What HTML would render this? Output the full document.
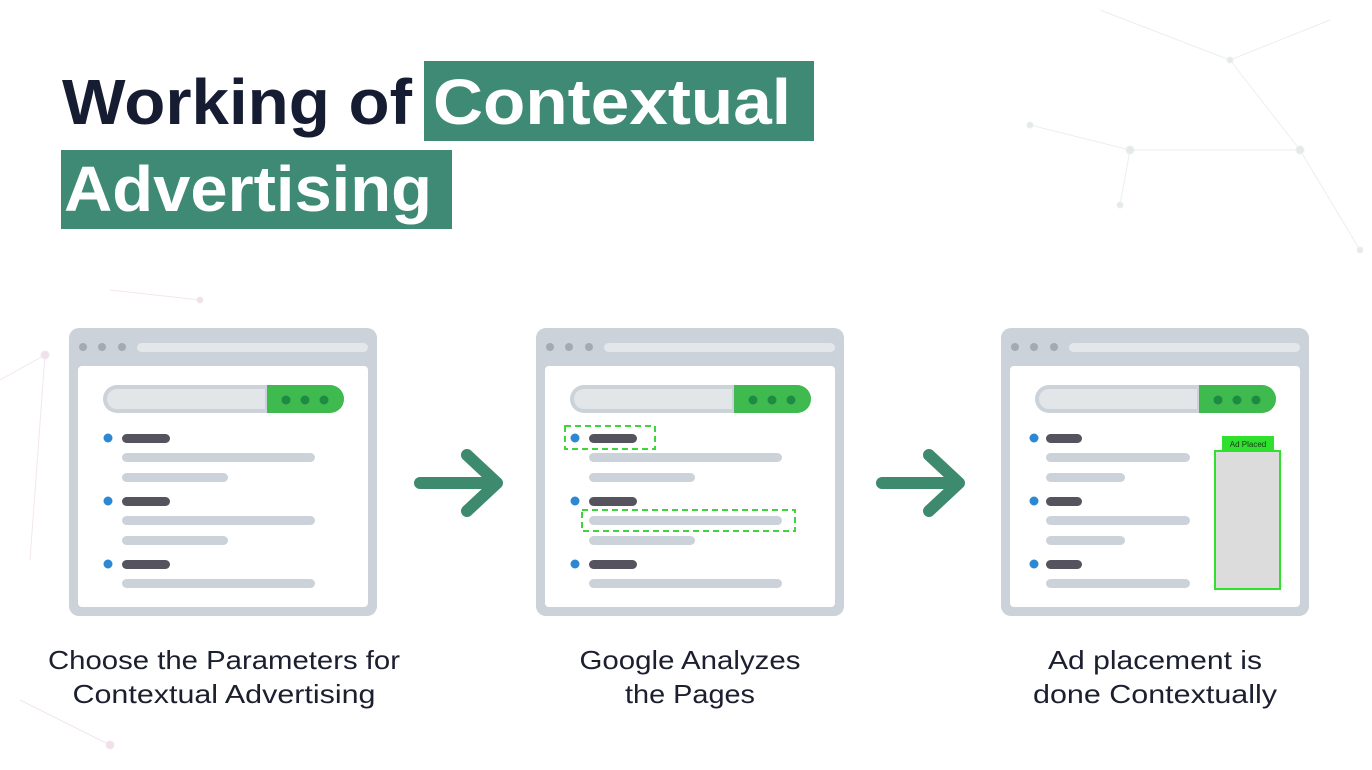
<!DOCTYPE html>
<html><head><meta charset="utf-8"><style>
body{margin:0;background:#fff;}
svg{display:block}
text{font-family:"Liberation Sans",sans-serif}
</style></head><body>
<svg width="1372" height="770" viewBox="0 0 1372 770" xmlns="http://www.w3.org/2000/svg">
<rect width="1372" height="770" fill="#fff"/>
<g stroke="#e6eceb" stroke-width="1" fill="#dde6e4" opacity="0.8">
<line x1="1100" y1="10" x2="1230" y2="60"/><line x1="1230" y1="60" x2="1330" y2="20"/><line x1="1230" y1="60" x2="1300" y2="150"/><line x1="1130" y1="150" x2="1300" y2="150"/><line x1="1300" y1="150" x2="1360" y2="250"/><line x1="1030" y1="125" x2="1130" y2="150"/><line x1="1130" y1="150" x2="1120" y2="205"/>
<circle cx="1230" cy="60" r="3"/><circle cx="1300" cy="150" r="4"/><circle cx="1130" cy="150" r="4"/><circle cx="1030" cy="125" r="3"/><circle cx="1120" cy="205" r="3"/><circle cx="1360" cy="250" r="3"/>
</g>
<g stroke="#f3e6ee" stroke-width="1" fill="#f0e0ea">
<line x1="0" y1="380" x2="45" y2="355"/><line x1="45" y1="355" x2="30" y2="560"/><line x1="20" y1="700" x2="110" y2="745"/><line x1="110" y1="290" x2="200" y2="300"/>
<circle cx="45" cy="355" r="4"/><circle cx="110" cy="745" r="4"/><circle cx="200" cy="300" r="3"/>
</g>
<rect x="424" y="61" width="390" height="80" fill="#3e8a74"/>
<rect x="61" y="150" width="391" height="79" fill="#3e8a74"/>
<text x="62" y="124" font-size="64" font-weight="bold" fill="#161d33" textLength="350" lengthAdjust="spacingAndGlyphs">Working of</text>
<text x="433" y="124" font-size="64" font-weight="bold" fill="#fff" textLength="358" lengthAdjust="spacingAndGlyphs">Contextual</text>
<text x="64" y="211" font-size="64" font-weight="bold" fill="#fff" textLength="368" lengthAdjust="spacingAndGlyphs">Advertising</text>

<defs>
<g id="frame">
<rect x="69" y="328" width="308" height="288" rx="10" fill="#cbd2d9"/>
<rect x="78" y="366" width="290" height="241" rx="4" fill="#fff"/>
<circle cx="83" cy="347" r="4" fill="#a3abb2"/><circle cx="102" cy="347" r="4" fill="#a3abb2"/><circle cx="122" cy="347" r="4" fill="#a3abb2"/>
<rect x="137" y="343" width="231" height="9" rx="4.5" fill="#e3e7ea"/>
<path d="M117 385 H330 a14 14 0 0 1 0 28 H117 a14 14 0 0 1 0 -28z" fill="#cbd2d9"/>
<path d="M117 389 H265 V409 H117 a10 10 0 0 1 0 -20z" fill="#e2e6e9"/>
<path d="M267 385 H330 a14 14 0 0 1 0 28 H267z" fill="#3fba4f"/>
<circle cx="286" cy="400" r="4.5" fill="#1e8a44"/><circle cx="305" cy="400" r="4.5" fill="#1e8a44"/><circle cx="324" cy="400" r="4.5" fill="#1e8a44"/>
</g>
<g id="win">
<use href="#frame"/>
<g fill="#2d88d3"><circle cx="108" cy="438" r="4.5"/><circle cx="108" cy="501" r="4.5"/><circle cx="108" cy="564" r="4.5"/></g>
<g fill="#55545e"><rect x="122" y="434" width="48" height="9" rx="4.5"/><rect x="122" y="497" width="48" height="9" rx="4.5"/><rect x="122" y="560" width="48" height="9" rx="4.5"/></g>
<g fill="#cbd2d9">
<rect x="122" y="453" width="193" height="9" rx="4.5"/><rect x="122" y="473" width="106" height="9" rx="4.5"/>
<rect x="122" y="516" width="193" height="9" rx="4.5"/><rect x="122" y="536" width="106" height="9" rx="4.5"/>
<rect x="122" y="579" width="193" height="9" rx="4.5"/></g>
</g>
<path id="arr" d="M420 483 H497 M467 455 L497 483 L467 511" fill="none" stroke="#3e8a6e" stroke-width="12" stroke-linecap="round" stroke-linejoin="round"/>
</defs>

<use href="#win"/>
<g transform="translate(467,0)"><use href="#win"/></g>
<rect x="565" y="426" width="90" height="23" fill="none" stroke="#3fd43f" stroke-width="2" stroke-dasharray="6,4"/>
<rect x="582" y="510" width="213" height="21" fill="none" stroke="#3fd43f" stroke-width="2" stroke-dasharray="6,4"/>
<g transform="translate(932,0)"><use href="#frame"/></g>
<g fill="#2d88d3"><circle cx="1034" cy="438" r="4.5"/><circle cx="1034" cy="501" r="4.5"/><circle cx="1034" cy="564" r="4.5"/></g>
<g fill="#55545e"><rect x="1046" y="434" width="36" height="9" rx="4.5"/><rect x="1046" y="497" width="36" height="9" rx="4.5"/><rect x="1046" y="560" width="36" height="9" rx="4.5"/></g>
<g fill="#cbd2d9">
<rect x="1046" y="453" width="144" height="9" rx="4.5"/><rect x="1046" y="473" width="79" height="9" rx="4.5"/>
<rect x="1046" y="516" width="144" height="9" rx="4.5"/><rect x="1046" y="536" width="79" height="9" rx="4.5"/>
<rect x="1046" y="579" width="144" height="9" rx="4.5"/></g>
<rect x="1222" y="436" width="52" height="15" fill="#2fe02f"/>
<text x="1248" y="447" font-size="8" text-anchor="middle" fill="#1a3a1a">Ad Placed</text>
<rect x="1215" y="451" width="65" height="138" fill="#dcdcdc" stroke="#2fe02f" stroke-width="2"/>

<use href="#arr"/>
<use href="#arr" transform="translate(462,0)"/>

<g font-size="26" fill="#1b1f2e" text-anchor="middle">
<text x="224" y="669" textLength="352" lengthAdjust="spacingAndGlyphs">Choose the Parameters for</text>
<text x="224" y="703" textLength="303" lengthAdjust="spacingAndGlyphs">Contextual Advertising</text>
<text x="690" y="669" textLength="221" lengthAdjust="spacingAndGlyphs">Google Analyzes</text>
<text x="690" y="703" textLength="130" lengthAdjust="spacingAndGlyphs">the Pages</text>
<text x="1155" y="669" textLength="214" lengthAdjust="spacingAndGlyphs">Ad placement is</text>
<text x="1155" y="703" textLength="244" lengthAdjust="spacingAndGlyphs">done Contextually</text>
</g>
</svg>
</body></html>
